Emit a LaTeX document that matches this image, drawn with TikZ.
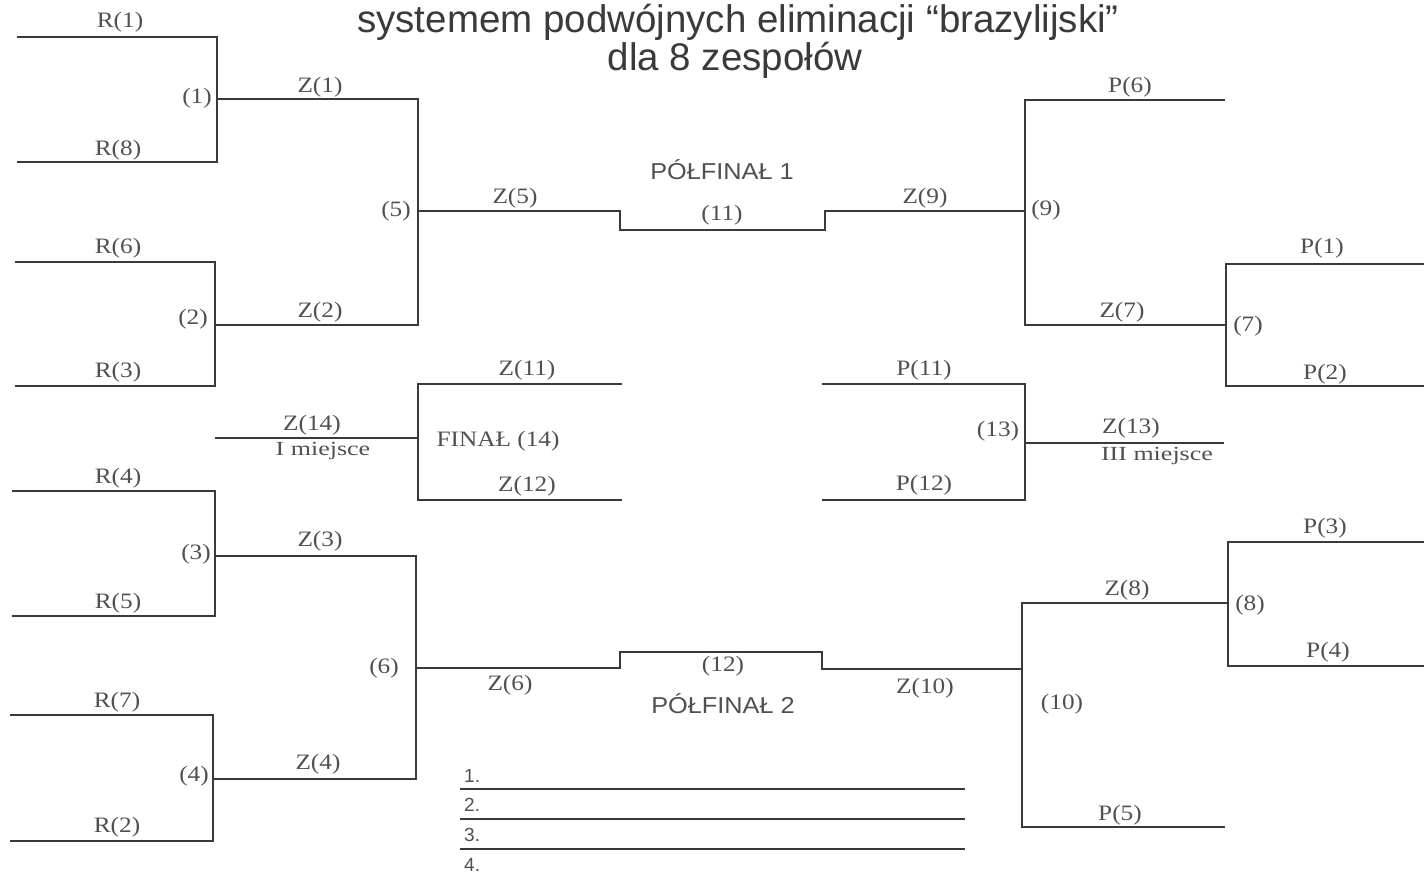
\documentclass[tikz,border=0pt]{standalone}
\usepackage{fontspec}
\setmainfont{Liberation Serif}
\newfontfamily\sansf{Liberation Sans}
\newfontfamily\labf[FakeStretch=1.15]{Liberation Serif}
\newfontfamily\labw[FakeStretch=1.3]{Liberation Serif}
\newfontfamily\sansw[FakeStretch=1.1]{Liberation Sans}
\definecolor{ink}{HTML}{3A3A3A}
\definecolor{lab}{HTML}{505050}
\begin{document}
\begin{tikzpicture}[x=1pt,y=-1pt,
  br/.style={draw=ink,line width=1.6pt,line join=miter},
  lbl/.style={font=\labf\fontsize{22}{24}\selectfont,text=lab,inner sep=0pt},
  sml/.style={font=\labw\fontsize{20}{22}\selectfont,text=lab,inner sep=0pt},
  sflbl/.style={font=\sansw\fontsize{23}{25}\selectfont,text=lab,inner sep=0pt},
  ttl/.style={font=\sansf\fontsize{38.5}{41}\selectfont,text=ink,inner sep=0pt},
  numl/.style={font=\sansf\fontsize{19}{21}\selectfont,text=lab,inner sep=0pt}]
\useasboundingbox (0,0) rectangle (1424,878);
\fill[white] (0,0) rectangle (1424,878);
% title
\node[ttl] (t1) at (738,22) {systemem podwójnych eliminacji “brazylijski”};
\node[ttl] (t2) at (735,60) {dla 8 zespołów};
% coordinates
\coordinate (a1) at (17,37); \coordinate (b1) at (217,37); \coordinate (c1) at (217,162); \coordinate (d1) at (17,162); \coordinate (w1) at (217,99);
\coordinate (a2) at (15,262); \coordinate (b2) at (215,262); \coordinate (c2) at (215,386); \coordinate (d2) at (15,386); \coordinate (w2) at (215,325);
\coordinate (b5) at (418,99); \coordinate (c5) at (418,325); \coordinate (w5) at (418,211);
\coordinate (s1a) at (620,211); \coordinate (s1b) at (620,230); \coordinate (s1c) at (825,230); \coordinate (s1d) at (825,211);
\coordinate (w9) at (1025,211); \coordinate (b9) at (1025,100); \coordinate (c9) at (1025,325); \coordinate (p6) at (1225,100);
\coordinate (w7) at (1226,325); \coordinate (b7) at (1226,264); \coordinate (c7) at (1226,386); \coordinate (p1) at (1424,264); \coordinate (p2) at (1424,386);
\coordinate (f1) at (622,384); \coordinate (f2) at (418,384); \coordinate (f3) at (418,500); \coordinate (f4) at (622,500); \coordinate (fw) at (418,438); \coordinate (z14) at (215,438);
\coordinate (g1) at (822,384); \coordinate (g2) at (1025,384); \coordinate (g3) at (1025,500); \coordinate (g4) at (822,500); \coordinate (gw) at (1025,443); \coordinate (z13) at (1224,443);
\coordinate (a3) at (12,491); \coordinate (b3) at (215,491); \coordinate (c3) at (215,616); \coordinate (d3) at (12,616); \coordinate (w3) at (215,556);
\coordinate (a4) at (10,715); \coordinate (b4) at (213,715); \coordinate (c4) at (213,841); \coordinate (d4) at (10,841); \coordinate (w4) at (213,779);
\coordinate (b6) at (416,556); \coordinate (c6) at (416,779); \coordinate (w6) at (416,668);
\coordinate (s2a) at (620,668); \coordinate (s2b) at (620,652); \coordinate (s2c) at (822,652); \coordinate (s2d) at (822,669);
\coordinate (w10) at (1022,669); \coordinate (b10) at (1022,603); \coordinate (c10) at (1022,827); \coordinate (p5) at (1225,827);
\coordinate (w8) at (1228,603); \coordinate (b8) at (1228,542); \coordinate (c8) at (1228,666); \coordinate (p3) at (1424,542); \coordinate (p4) at (1424,666);
\coordinate (l1a) at (460,789); \coordinate (l1b) at (965,789);
\coordinate (l2a) at (460,819); \coordinate (l2b) at (965,819);
\coordinate (l3a) at (460,849); \coordinate (l3b) at (965,849);
% brackets
\draw[br] (a1) -- (b1) -- (c1) -- (d1);
\draw[br] (a2) -- (b2) -- (c2) -- (d2);
\draw[br] (w1) -- (b5) -- (c5) -- (w2);
\draw[br] (w5) -- (s1a) -- (s1b) -- (s1c) -- (s1d) -- (w9);
\draw[br] (p6) -- (b9) -- (c9) -- (w7);
\draw[br] (p1) -- (b7) -- (c7) -- (p2);
\draw[br] (f1) -- (f2) -- (f3) -- (f4);
\draw[br] (fw) -- (z14);
\draw[br] (g1) -- (g2) -- (g3) -- (g4);
\draw[br] (gw) -- (z13);
\draw[br] (a3) -- (b3) -- (c3) -- (d3);
\draw[br] (a4) -- (b4) -- (c4) -- (d4);
\draw[br] (w3) -- (b6) -- (c6) -- (w4);
\draw[br] (w6) -- (s2a) -- (s2b) -- (s2c) -- (s2d) -- (w10);
\draw[br] (w8) -- (b10) -- (c10) -- (p5);
\draw[br] (p3) -- (b8) -- (c8) -- (p4);
\draw[br,line width=1.3pt] (l1a) -- (l1b);
\draw[br,line width=1.3pt] (l2a) -- (l2b);
\draw[br,line width=1.3pt] (l3a) -- (l3b);
% labels
\node[lbl] (nr1) at (120,22) {R(1)};
\node[lbl] (nr8) at (118,150) {R(8)};
\node[lbl] (nm1) at (197,98) {(1)};
\node[lbl] (nz1) at (320,87) {Z(1)};
\node[lbl] (nr6) at (118,248) {R(6)};
\node[lbl] (nr3) at (118,372) {R(3)};
\node[lbl] (nm2) at (193,319) {(2)};
\node[lbl] (nz2) at (320,312) {Z(2)};
\node[lbl] (nm5) at (396,211) {(5)};
\node[lbl] (nz5) at (515,198) {Z(5)};
\node[sflbl] (sf1) at (722,170) {PÓŁFINAŁ 1};
\node[lbl] (nm11) at (722,215) {(11)};
\node[lbl] (nz9) at (925,198) {Z(9)};
\node[lbl] (nm9) at (1046,210) {(9)};
\node[lbl] (np6) at (1130,87) {P(6)};
\node[lbl] (nz7) at (1122,312) {Z(7)};
\node[lbl] (nm7) at (1248,326) {(7)};
\node[lbl] (np1) at (1322,248) {P(1)};
\node[lbl] (np2) at (1325,374) {P(2)};
\node[lbl] (nz11) at (527,370) {Z(11)};
\node[lbl] (nfin) at (498,441) {FINAŁ (14)};
\node[lbl] (nz12) at (527,486) {Z(12)};
\node[lbl] (nz14) at (312,425) {Z(14)};
\node[sml] (nI) at (323,451) {I miejsce};
\node[lbl] (np11) at (924,370) {P(11)};
\node[lbl] (np12) at (924,485) {P(12)};
\node[lbl] (nm13) at (998,431) {(13)};
\node[lbl] (nz13) at (1131,428) {Z(13)};
\node[sml] (nIII) at (1157,456) {III miejsce};
\node[lbl] (nr4) at (118,478) {R(4)};
\node[lbl] (nr5) at (118,603) {R(5)};
\node[lbl] (nm3) at (196,554) {(3)};
\node[lbl] (nz3) at (320,541) {Z(3)};
\node[lbl] (nr7) at (117,702) {R(7)};
\node[lbl] (nr2) at (117,827) {R(2)};
\node[lbl] (nm4) at (194,776) {(4)};
\node[lbl] (nz4) at (318,764) {Z(4)};
\node[lbl] (nm6) at (384,668) {(6)};
\node[lbl] (nz6) at (510,685) {Z(6)};
\node[lbl] (nm12) at (723,666) {(12)};
\node[sflbl] (sf2) at (723,704) {PÓŁFINAŁ 2};
\node[lbl] (nz10) at (925,688) {Z(10)};
\node[lbl] (nm10) at (1062,704) {(10)};
\node[lbl] (nz8) at (1127,590) {Z(8)};
\node[lbl] (np5) at (1120,815) {P(5)};
\node[lbl] (nm8) at (1250,605) {(8)};
\node[lbl] (np3) at (1325,528) {P(3)};
\node[lbl] (np4) at (1328,652) {P(4)};
\node[numl,anchor=west] (k1) at (464,776) {1.};
\node[numl,anchor=west] (k2) at (464,805) {2.};
\node[numl,anchor=west] (k3) at (464,835) {3.};
\node[numl,anchor=west] (k4) at (464,865) {4.};
\end{tikzpicture}
\end{document}
